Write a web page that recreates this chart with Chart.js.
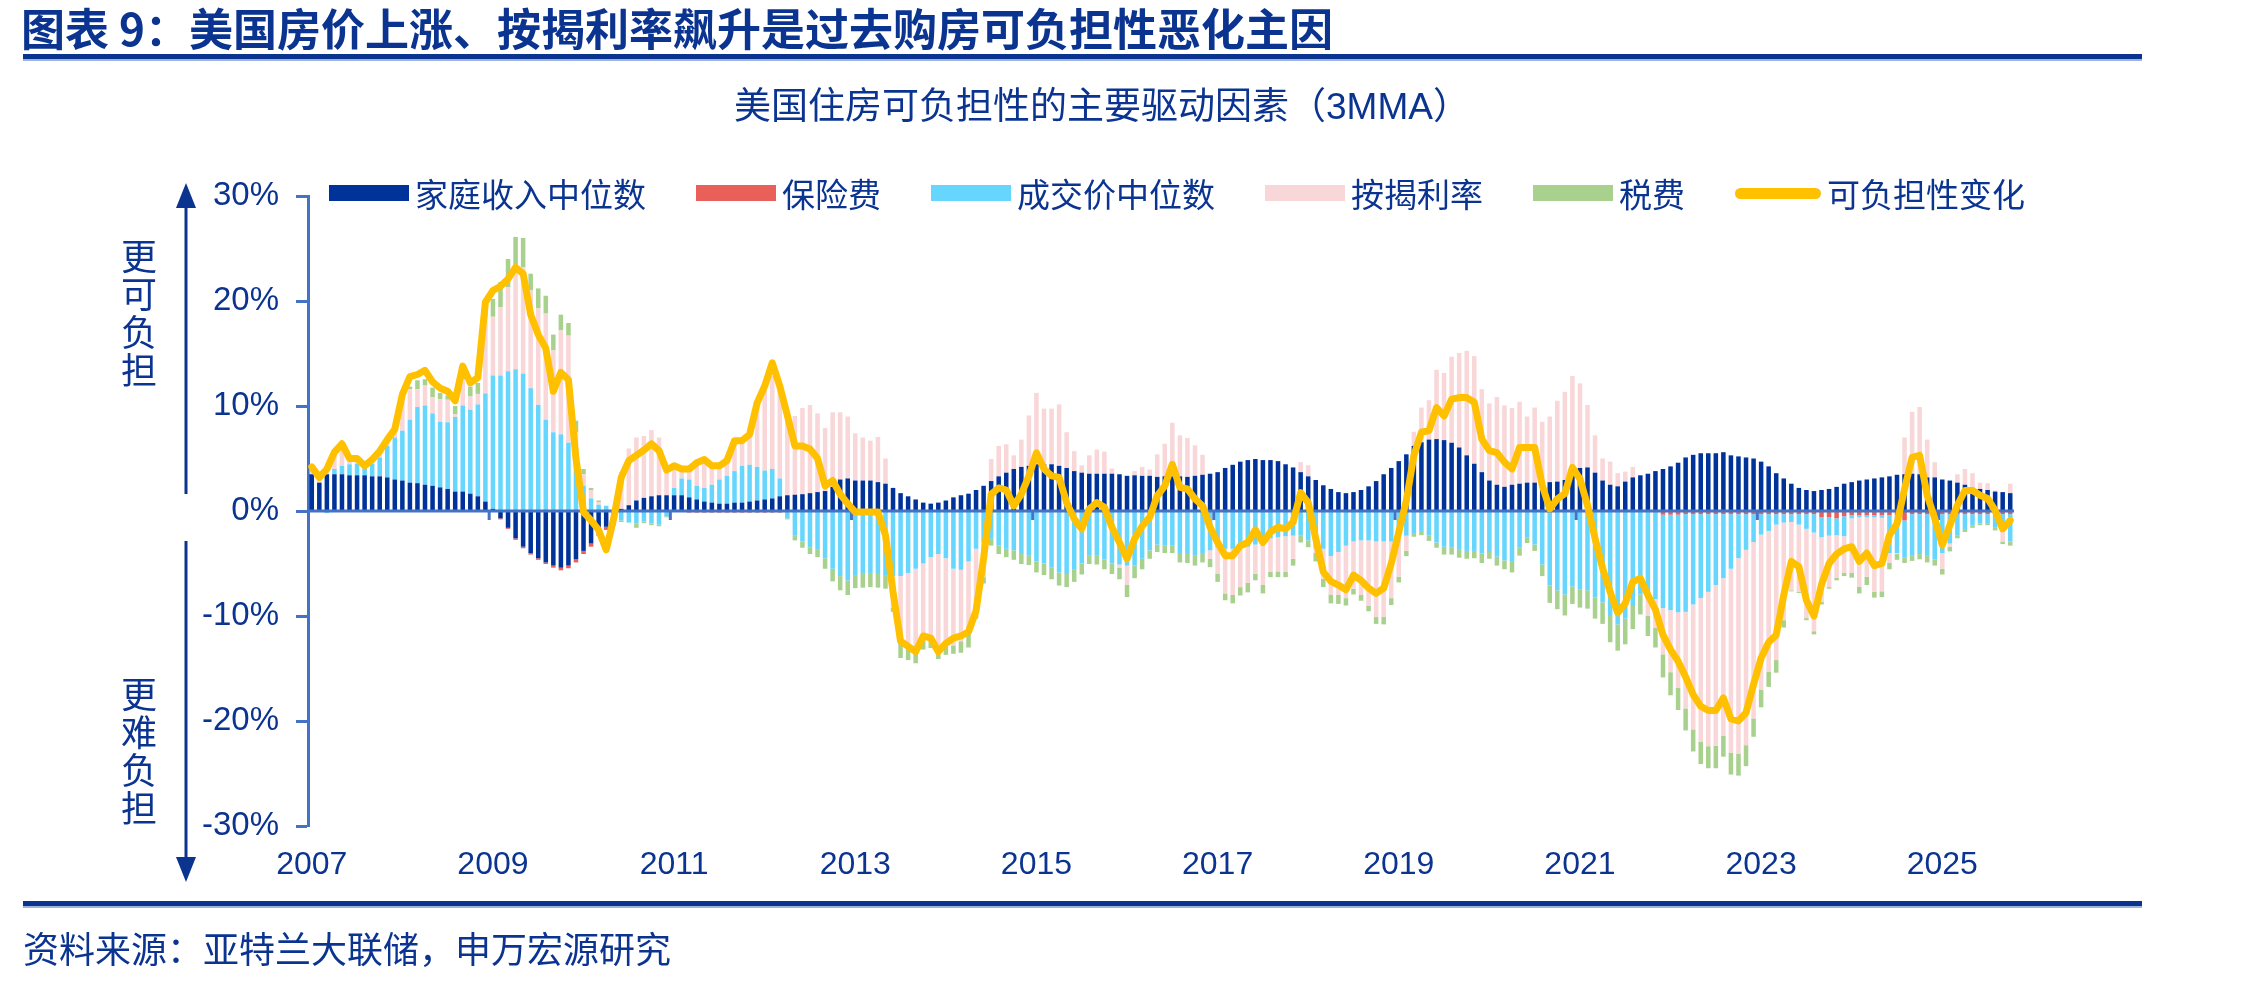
<!DOCTYPE html>
<html>
<head>
<meta charset="utf-8">
<script src="https://cdn.jsdelivr.net/npm/chart.js@4.4.1/dist/chart.umd.min.js"></script>
<style>
  body { margin:0; width:2244px; height:982px; position:relative; background:#fff; overflow:hidden;
         font-family:"Liberation Sans","Noto Sans CJK SC",sans-serif; color:#0B3491; }
  #chart { position:absolute; left:0; top:0; }
  .abs { position:absolute; white-space:nowrap; }
  #title { left:21px; top:2px; font-size:44px; font-weight:bold; line-height:50px; font-family:"Noto Sans CJK SC",sans-serif; }
  .rule { position:absolute; left:23px; width:2119px; height:5px; background:#0B3491; border-bottom:2px solid #9DB3E0; }
  #subtitle { left:0; width:2204px; text-align:center; top:84px; font-size:37px; line-height:46px; }
  #legend { left:329px; top:173px; height:40px; display:flex; align-items:center; gap:50px; font-size:33px;
            font-family:"Noto Sans CJK SC",sans-serif; }
  .item { display:flex; align-items:center; }
  .sw { display:inline-block; width:80px; height:16px; margin-right:6px; }
  .sw.line { width:86px; height:11px; border-radius:6px; }
  .side { width:60px; left:109px; text-align:center; font-size:36px; line-height:38px;
          font-family:"Noto Sans CJK SC",sans-serif; }
  #source { left:23px; top:924px; font-size:36px; line-height:46px; font-family:"Noto Sans CJK SC",sans-serif; }
</style>
</head>
<body>
<canvas id="chart" width="2244" height="982"></canvas>
<div id="title" class="abs">图表 9：美国房价上涨、按揭利率飙升是过去购房可负担性恶化主因</div>
<div class="rule" style="top:54px"></div>
<div id="subtitle" class="abs">美国住房可负担性的主要驱动因素（3MMA）</div>
<div id="legend" class="abs"></div>
<svg class="abs" style="left:0;top:0" width="300" height="982">
  <line x1="186" y1="200" x2="186" y2="494" stroke="#0B3491" stroke-width="3"/>
  <polygon points="176,208 196,208 186,183" fill="#0B3491"/>
  <line x1="186" y1="541" x2="186" y2="862" stroke="#0B3491" stroke-width="3"/>
  <polygon points="176,857 196,857 186,882" fill="#0B3491"/>
</svg>
<div class="abs side" style="top:235px">更<br>可<br>负<br>担</div>
<div class="abs side" style="top:673px">更<br>难<br>负<br>担</div>
<div class="rule" style="top:901px"></div>
<div id="source" class="abs">资料来源：亚特兰大联储，申万宏源研究</div>

<script>
/* ─── Data (monthly, Jan 2007 – Oct 2025, %) ─────────────────────────── */
const startYear = 2007;
const yearTicks = ["2007","2009","2011","2013","2015","2017","2019","2021","2023","2025"];

const incomeMedian = [
  3.5, 2.7, 3.5, 3.5, 3.5, 3.4, 3.4, 3.4, 3.3, 3.3, 3.2, 3.0,
  2.9, 2.7, 2.65, 2.5, 2.4, 2.25, 2.1, 1.85, 1.85, 1.65, 1.4, 0.9,
  0.2, -0.7, -1.6, -2.6, -3.4, -4.0, -4.5, -4.9, -5.2, -5.4, -5.2, -4.6,
  -3.8, -3.1, -2.1, -1.5, -0.5, 0.2, 0.55, 1.0, 1.25, 1.4, 1.5, 1.5,
  1.5, 1.5, 1.3, 1.1, 0.9, 0.8, 0.7, 0.7, 0.8, 0.8, 0.9, 1.0,
  1.1, 1.2, 1.4, 1.5, 1.55, 1.6, 1.7, 1.8, 1.9, 2.3, 3.0, 3.1,
  2.9, 2.9, 2.9, 2.75, 2.6, 2.2, 1.7, 1.4, 1.1, 0.8, 0.7, 0.8,
  1.0, 1.3, 1.5, 1.65, 2.0, 2.4, 2.85, 3.3, 3.65, 4.0, 4.2, 4.3,
  4.45, 4.45, 4.45, 4.3, 4.1, 3.8, 3.65, 3.55, 3.55, 3.55, 3.55, 3.5,
  3.35, 3.4, 3.35, 3.35, 3.25, 3.3, 3.3, 3.3, 3.25, 3.35, 3.45, 3.55,
  3.7, 4.1, 4.4, 4.7, 4.85, 4.95, 4.85, 4.85, 4.75, 4.45, 4.15, 3.7,
  3.3, 2.95, 2.45, 2.1, 1.8, 1.7, 1.8, 2.0, 2.35, 2.85, 3.5, 4.1,
  4.75, 5.4, 6.2, 6.55, 6.8, 6.85, 6.75, 6.5, 6.05, 5.3, 4.5, 3.7,
  2.9, 2.5, 2.3, 2.5, 2.6, 2.7, 2.7, 2.7, 2.75, 2.8, 2.95, 3.55,
  4.1, 4.15, 3.65, 2.9, 2.5, 2.35, 2.8, 3.2, 3.4, 3.55, 3.8, 4.0,
  4.25, 4.6, 5.1, 5.35, 5.5, 5.5, 5.5, 5.6, 5.3, 5.2, 5.1, 5.0,
  4.7, 4.25, 3.6, 3.1, 2.6, 2.2, 2.0, 1.9, 2.0, 2.1, 2.3, 2.6,
  2.75, 2.9, 3.0, 3.1, 3.2, 3.3, 3.45, 3.5, 3.55, 3.5, 3.2, 3.2,
  3.0, 2.9, 2.7, 2.5, 2.2, 2.1, 2.0, 1.85, 1.8, 1.7,
];

const insurance = [
  0, 0, 0, 0, 0, 0, 0, 0, 0, 0, 0, 0,
  0, 0, 0, 0, 0, 0, 0, 0, 0, 0, 0, 0,
  0, -0.1, -0.1, -0.15, -0.15, -0.15, -0.15, -0.15, -0.2, -0.25, -0.25, -0.3,
  -0.3, -0.3, -0.25, -0.3, -0.1, 0, 0, 0, 0, 0, 0, 0,
  0, 0, -0.15, -0.15, -0.15, -0.15, -0.15, -0.15, -0.15, -0.15, -0.15, -0.15,
  -0.15, -0.15, -0.15, -0.1, 0, 0, 0, 0, 0, 0, 0, 0,
  0, 0, 0, 0, 0, 0, 0, 0, 0, 0, 0, 0,
  0, 0, 0, 0, 0, 0, 0, 0, 0, 0, 0, 0,
  -0.1, -0.1, -0.1, -0.1, -0.1, 0, 0, 0, 0, -0.1, -0.1, -0.1,
  0, 0, 0, 0, 0, 0, 0, 0, 0, 0, 0, 0,
  0, 0, 0, 0, 0, 0, 0, 0, 0, 0, 0, 0,
  0, 0, 0, 0, 0, 0, 0, 0, 0, 0, 0, 0,
  0, 0, 0, 0, 0, 0, 0, 0, 0, 0, 0, 0,
  0, 0, 0, 0, 0, -0.1, -0.1, -0.1, -0.1, -0.1, -0.1, -0.1,
  -0.1, -0.1, -0.1, -0.1, -0.1, -0.1, -0.1, -0.1, -0.1, -0.1, -0.1, -0.35,
  -0.35, -0.35, -0.3, -0.3, -0.3, -0.3, -0.3, -0.3, -0.3, -0.3, -0.3, -0.3,
  -0.3, -0.3, -0.3, -0.3, -0.3, -0.3, -0.3, -0.3, -0.6, -0.6, -0.7, -0.5,
  -0.4, -0.4, -0.4, -0.4, -0.4, -0.4, -0.4, -0.9, -0.3, -0.3, -0.3, -0.3,
  -0.3, -0.3, -0.3, -0.3, -0.3, -0.3, -0.3, -0.3, -0.3, -0.3,
];

const salePrice = [
  0, 0, -0.2, 0.5, 0.8, 1.05, 1.1, 0.95, 1.2, 1.8, 3.0, 4.0,
  4.75, 6.0, 7.25, 7.55, 6.9, 6.25, 6.35, 7.1, 8.2, 8.0, 8.75, 10.3,
  12.7, 12.9, 13.3, 13.5, 13.1, 11.7, 10.1, 8.7, 7.5, 7.3, 6.5, 5.6,
  2.4, 1.2, 0.6, 0.5, -0.7, -0.9, -1.1, -1.2, -1.0, -1.2, -1.3, -0.5,
  0.7, 1.6, 1.7, 1.3, 1.3, 1.7, 2.3, 2.65, 3.0, 3.5, 3.5, 3.2,
  2.75, 2.8, 1.7, -0.6, -2.3, -2.9, -3.5, -3.7, -4.5, -5.5, -6.2, -6.6,
  -6.1, -5.9, -5.9, -6.0, -6.1, -6.2, -6.2, -5.9, -5.5, -5.0, -4.4, -4.1,
  -4.5, -5.5, -5.6, -4.8, -3.6, -3.0, -2.65, -3.3, -3.6, -3.75, -4.1, -4.2,
  -4.7, -4.9, -5.3, -5.75, -5.9, -5.6, -5.0, -4.2, -4.2, -4.5, -4.9, -5.0,
  -5.2, -5.2, -4.55, -3.75, -3.2, -3.3, -3.3, -4.0, -4.0, -4.2, -4.0, -3.75,
  -3.45, -3.6, -3.6, -3.45, -3.4, -3.2, -2.65, -2.6, -2.5, -2.4, -2.35, -2.35,
  -2.8, -3.55, -3.6, -4.3, -3.9, -3.3, -2.9, -2.8, -2.8, -2.9, -2.9, -2.9,
  -2.0, -2.35, -2.1, -1.9, -2.35, -3.0, -3.4, -3.5, -3.7, -3.8, -3.8, -4.05,
  -3.9, -4.35, -4.7, -4.85, -3.5, -2.45, -3.1, -5.0, -7.0, -7.45, -7.85, -7.1,
  -7.35, -7.45, -8.15, -8.6, -9.9, -10.7, -10.15, -8.95, -7.85, -8.3, -8.3, -8.9,
  -9.1, -9.3, -9.3, -8.6, -8.0, -7.4, -6.75, -6.1, -5.2, -4.2, -3.4, -2.65,
  -1.95, -1.6, -1.0, -0.8, -0.75, -1.0, -1.4, -1.75, -1.9, -1.75, -1.6, -1.9,
  -0.3, -0.2, -0.2, -0.2, -0.25, -3.6, -3.6, -3.5, -3.9, -3.8, -3.9, -4.3,
  -3.7, -2.8, -2.0, -1.5, -1.1, -0.9, -0.85, -1.3, -1.65, -2.6,
];

const mortgageRate = [
  0.5, 0.4, 0.4, 1.6, 2.0, 0.5, 0.3, 0, 0.4, 0.6, 0.7, 1.0,
  3.8, 2.9, 1.7, 1.9, 1.55, 2.15, 2.15, 0.25, 2.5, 1.25, 1.0, 7.3,
  5.6, 6.5, 8.0, 9.8, 10.1, 9.3, 9.2, 10.1, 7.8, 9.9, 10.2, 1.9,
  1.1, 0.8, 0.25, 0, 0, 3.5, 5.4, 6.0, 5.9, 6.3, 5.5, 2.5,
  2.0, 0.9, 1.0, 2.2, 2.7, 1.8, 1.3, 1.6, 3.1, 2.4, 2.9, 6.1,
  8.4, 8.85, 8.5, 7.6, 7.5, 8.2, 8.4, 7.5, 6.0, 7.1, 6.4, 5.9,
  4.5, 4.1, 3.8, 4.3, 2.4, -3.0, -6.2, -7.0, -7.6, -7.4, -7.7, -8.75,
  -8.4, -7.3, -6.8, -6.6, -5.7, -3.3, 2.1, 2.9, 2.7, 1.3, 2.6, 4.8,
  6.8, 5.3, 5.3, 5.85, 3.4, 1.9, 0.7, 1.75, 2.3, 2.1, 0.5, -0.3,
  -1.8, 0.4, 0.85, 0.6, 2.15, 3.1, 5.1, 3.9, 3.7, 2.9, 1.9, -0.8,
  -2.5, -4.25, -4.4, -3.8, -3.45, -2.8, -4.4, -3.2, -3.25, -3.4, -2.2, 0.95,
  1.05, -0.45, -2.85, -3.65, -4.1, -5.0, -4.5, -5.2, -6.2, -7.2, -7.2, -5.4,
  -4.25, -1.45, 1.35, 3.3, 3.75, 6.6, 6.4, 8.2, 9.0, 9.95, 10.25, 7.9,
  7.35, 8.35, 7.75, 7.3, 7.8, 6.3, 7.15, 5.8, 6.25, 7.7, 8.4, 9.3,
  8.05, 5.95, 3.55, 2.1, 2.2, 1.25, 0.95, 1.0, 0, -1.6, -2.7, -4.4,
  -5.9, -7.2, -9.2, -11.9, -13.7, -14.7, -15.3, -15.0, -17.5, -18.6, -18.6, -16.8,
  -14.8, -13.4, -12.9, -9.3, -6.5, -6.4, -8.5, -9.4, -6.15, -4.9, -4.05, -3.5,
  -5.2, -6.6, -5.65, -7.1, -7.0, -0.95, -0.1, 3.5, 5.9, 6.4, 3.6, 1.45,
  -1.5, -0.3, 0.8, 1.5, 1.4, 0.6, 0.65, 0.1, -0.95, 0.9,
];

const taxes = [
  0, 0, 0, 0, 0, 0, 0, 0, 0, 0, 0, 0,
  0, 0.25, 0.85, 0.6, 0.9, 0.6, 0.4, 0.8, 0.5, 0.95, 1.05, 1.5,
  1.7, 2.4, 2.7, 2.8, 2.8, 1.6, 1.9, 1.7, 1.5, 1.5, 1.2, 1.1,
  0.5, 0.2, 0.15, 0, -0.1, -0.15, 0, -0.4, -0.15, -0.15, -0.15, -0.1,
  0, 0, 0, 0, 0, 0, 0, 0, 0, 0.1, 0, 0,
  0, 0, 0, -0.1, -0.5, -0.6, -0.6, -0.7, -1.0, -1.2, -1.35, -1.4,
  -1.25, -1.4, -1.35, -1.3, -1.3, -0.4, -1.6, -1.3, -1.4, -0.8, -0.95, -1.25,
  -0.8, -0.8, -1.1, -1.6, -0.95, -0.6, -0.65, -0.8, -0.8, -0.9, -0.95, -0.95,
  -1.05, -1.1, -1.1, -1.25, -1.25, -1.15, -1.05, -0.85, -0.9, -0.95, -1.0, -1.1,
  -1.2, -1.2, -1.0, -0.8, -0.7, -0.7, -0.7, -0.9, -0.95, -1.0, -0.9, -0.8,
  -0.8, -0.65, -0.8, -0.8, -0.9, -0.6, -0.8, -0.5, -0.55, -0.5, -0.65, -0.65,
  -0.65, -0.8, -0.8, -0.85, -0.85, -0.7, -0.55, -0.55, -0.55, -0.65, -0.7, -0.65,
  -0.55, -0.5, -0.35, -0.4, -0.5, -0.5, -0.75, -0.65, -0.75, -0.75, -0.7, -0.9,
  -0.65, -0.85, -0.85, -1.0, -0.75, -0.5, -0.6, -1.1, -1.65, -1.8, -2.0, -1.65,
  -1.75, -1.75, -2.0, -2.05, -2.5, -2.5, -2.45, -2.2, -1.9, -1.9, -1.9, -2.2,
  -2.2, -2.1, -2.1, -2.1, -2.1, -2.1, -2.15, -2.0, -2.1, -2.1, -2.0, -1.75,
  -1.65, -1.45, -1.2, -0.7, -0.1, -0.1, -0.2, -0.3, -0.25, -0.15, -0.25, -0.3,
  -0.45, -0.65, -0.8, -0.55, -0.55, -0.6, -0.55, -0.55, -0.55, -0.5, -0.7, -0.6,
  -0.55, -0.45, -0.3, -0.2, -0.2, -0.15, -0.2, -0.25, -0.25, -0.4,
];

const affordChange = [
  4.2, 3.2, 4.0, 5.6, 6.4, 5.0, 5.0, 4.3, 4.9, 5.7, 6.8, 7.8,
  11.1, 12.8, 13.0, 13.4, 12.3, 11.7, 11.4, 10.5, 13.8, 12.2, 12.7, 19.9,
  21.0, 21.4, 22.1, 23.2, 22.6, 18.7, 16.8, 15.5, 11.4, 13.2, 12.5, 5.0,
  -0.1, -0.9, -1.8, -3.7, -0.7, 3.2, 4.8, 5.3, 5.8, 6.4, 5.75, 3.9,
  4.3, 4.0, 4.0, 4.6, 4.9, 4.3, 4.3, 4.8, 6.7, 6.7, 7.3, 10.3,
  11.9, 14.1, 11.9, 9.1, 6.2, 6.2, 5.9, 5.0, 2.4, 2.9, 1.6, 0.7,
  -0.1, -0.1, -0.1, -0.1, -2.3, -7.7, -12.4, -12.9, -13.4, -11.9, -12.1, -13.4,
  -12.6, -12.1, -11.9, -11.5, -9.5, -4.5, 1.6, 2.2, 2.0, 0.5, 1.6, 3.35,
  5.55, 4.0, 3.35, 3.2, 0.8, -0.75, -1.7, 0.2, 0.8, 0.35, -1.55, -3.0,
  -4.55, -2.65, -1.45, -0.6, 1.45, 2.4, 4.45, 2.25, 2.1, 1.15, 0.5, -1.55,
  -3.0, -4.25, -4.25, -3.3, -3.0, -1.8, -3.0, -2.0, -1.55, -1.7, -1.05, 1.75,
  0.8, -2.65, -5.8, -6.7, -7.05, -7.5, -6.1, -6.6, -7.35, -7.85, -7.35, -5.0,
  -2.0, 1.0, 5.3, 7.5, 7.65, 9.85, 9.05, 10.65, 10.8, 10.8, 10.35, 6.85,
  5.75, 5.55, 4.65, 4.0, 6.05, 6.05, 6.05, 2.45, 0.2, 1.15, 1.65, 4.15,
  3.05, 0.55, -2.6, -5.45, -7.7, -9.7, -8.8, -6.75, -6.4, -8.0, -9.4, -11.8,
  -13.2, -14.3, -15.8, -17.5, -18.6, -19.0, -19.0, -17.8, -19.8, -20.0, -19.2, -16.5,
  -14.0, -12.5, -11.8, -8.0, -4.8, -5.3, -8.5, -10.0, -7.0, -5.0, -4.1, -3.6,
  -3.4, -4.8, -4.0, -5.2, -5.0, -2.3, -1.2, 2.1, 5.1, 5.3, 1.5, -0.7,
  -3.25, -1.35, 0.55, 1.95, 1.95, 1.5, 1.2, 0.05, -1.7, -0.9,
];

/* ─── Colours / fonts ─────────────────────────────────────────────────── */
const TEXT_BLUE = "#0B3491";
const AXIS_BLUE = "#4472C4";
const NUM_FONT  = "'Liberation Sans', Arial, sans-serif";

const SERIES = [
  { label:"家庭收入中位数", data:incomeMedian, color:"#00339A" },
  { label:"保险费",         data:insurance,    color:"#E9605A" },
  { label:"成交价中位数",   data:salePrice,    color:"#66D6FF" },
  { label:"按揭利率",       data:mortgageRate, color:"#F9D6D7" },
  { label:"税费",           data:taxes,        color:"#A9D18E" },
];
const LINE = { label:"可负担性变化", data:affordChange, color:"#FFC000" };

/* month categories */
const monthLabels = incomeMedian.map((_, i) =>
  `${startYear + Math.floor(i / 12)}-${String(i % 12 + 1).padStart(2, "0")}`);
const isYearTick = lab => lab.endsWith("-01") && yearTicks.includes(lab.slice(0, 4));

/* ─── Legend (HTML) ───────────────────────────────────────────────────── */
document.getElementById("legend").innerHTML =
  SERIES.map(s => `<div class="item"><span class="sw" style="background:${s.color}"></span>${s.label}</div>`).join("") +
  `<div class="item"><span class="sw line" style="background:${LINE.color}"></span>${LINE.label}</div>`;

/* ─── Zero axis with year tick marks ──────────────────────────────────── */
const zeroAxis = {
  id: "zeroAxis",
  afterDatasetDraw(chart, args) {
    if (args.index !== 0) return;          // after last bar layer, before the line
    const { ctx, chartArea, scales: { x, y } } = chart;
    const y0 = y.getPixelForValue(0);
    ctx.save();
    ctx.strokeStyle = AXIS_BLUE;
    ctx.lineWidth = 3;
    ctx.beginPath();
    ctx.moveTo(chartArea.left, y0);
    ctx.lineTo(chartArea.right, y0);
    ctx.stroke();
    monthLabels.forEach((lab, i) => {
      if (i === 0 || !isYearTick(lab)) return;
      const xb = (x.getPixelForValue(i - 1) + x.getPixelForValue(i)) / 2;
      ctx.beginPath();
      ctx.moveTo(xb, y0);
      ctx.lineTo(xb, y0 + 9);
      ctx.stroke();
    });
    ctx.restore();
  },
};

/* ─── Chart ───────────────────────────────────────────────────────────── */
new Chart(document.getElementById("chart").getContext("2d"), {
  type: "bar",
  data: {
    labels: monthLabels,
    datasets: [
      ...SERIES.map(s => ({
        label: s.label, data: s.data, backgroundColor: s.color,
        barPercentage: 0.6, categoryPercentage: 1, borderWidth: 0,
      })),
      {
        type: "line", label: LINE.label, data: LINE.data, order: -1, stack: "line",
        borderColor: LINE.color, borderWidth: 7, pointRadius: 0, tension: 0,
        borderJoinStyle: "round", borderCapStyle: "round", fill: false,
      },
    ],
  },
  options: {
    responsive: false, animation: false, devicePixelRatio: 1,
    layout: { padding: { left: 0, top: 196, right: 230, bottom: 86 } },
    plugins: { legend: { display: false }, tooltip: { enabled: false } },
    scales: {
      x: {
        stacked: true, offset: true,
        grid: { display: false, drawTicks: false },
        border: { display: false },
        ticks: {
          autoSkip: false, maxRotation: 0, padding: 20,
          color: TEXT_BLUE, font: { size: 32, family: NUM_FONT },
          callback(v) { const lab = this.getLabelForValue(v); return isYearTick(lab) ? lab.slice(0, 4) : null; },
        },
        afterFit(s) { s.height = 70; },
      },
      y: {
        stacked: true, min: -30, max: 30,
        ticks: { stepSize: 10, padding: 17, color: TEXT_BLUE, font: { size: 33, family: NUM_FONT },
                 callback: v => v + "%" },
        grid: { drawOnChartArea: false, tickLength: 12, tickColor: AXIS_BLUE, tickWidth: 3 },
        border: { color: AXIS_BLUE, width: 3 },
        afterFit(s) { s.width = 308; },
      },
    },
  },
  plugins: [zeroAxis],
});
</script>
</body>
</html>
